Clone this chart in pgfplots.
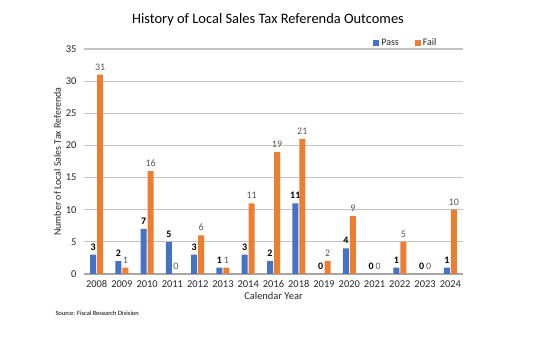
\documentclass[border=0pt]{standalone}
\usepackage{pgfplots}
\pgfplotsset{compat=1.18}
\usepackage{fontspec}
\setmainfont{Carlito}
\definecolor{passc}{HTML}{4472C4}
\definecolor{failc}{HTML}{ED7D31}
\definecolor{gridc}{HTML}{C4C4C4}
\definecolor{axc}{HTML}{A6A6A6}
\definecolor{txt}{HTML}{262626}
\definecolor{failtxt}{HTML}{595959}
\begin{document}
\begin{tikzpicture}
\path[use as bounding box] (0,0) rectangle (540bp,360bp);
\begin{axis}[
  at={(84bp,86bp)}, anchor=south west,
  scale only axis, width=379bp, height=225bp,
  ybar=1bp, bar width=6bp,
  xmin=-0.5, xmax=14.5, ymin=0, ymax=35,
  xtick={0,...,14},
  xticklabels={2008,2009,2010,2011,2012,2013,2014,2016,2018,2019,2020,2021,2022,2023,2024},
  ytick={0,5,...,35},
  ymajorgrids=true,
  major grid style={color=gridc, line width=1.1pt},
  axis x line*=bottom, axis y line*=left,
  y axis line style={draw=none},
  x axis line style={color=axc, line width=1.1pt, -},
  major tick length=0pt,
  tick label style={font=\fontsize{10.5}{12}\selectfont, text=txt},
  /pgf/number format/assume math mode=true,
  xticklabel style={yshift=-3bp},
  yticklabel style={xshift=-4bp},
  xlabel={Calendar Year}, xlabel style={font=\fontsize{10.5}{12}\selectfont, text=txt, yshift=2bp},
  ylabel={Number of Local Sales Tax Referenda}, ylabel style={font=\fontsize{10}{12}\selectfont, text=txt, yshift=-2bp},
  nodes near coords,
  every node near coord/.append style={font=\fontsize{10}{12}\selectfont, /pgf/number format/assume math mode=true, yshift=1bp},
  legend columns=2,
  legend style={draw=none, fill=none, at={(0.755,1.027)}, anchor=west, font=\fontsize{10}{12}\selectfont, text=txt,
    /tikz/every even column/.append style={column sep=14bp}},
  legend image code/.code={\fill[#1] (0bp,-3bp) rectangle (6bp,3bp);},
  enlargelimits=false, clip=false,
]
\addplot[fill=passc, draw=none, nodes near coords style={text=black, font=\fontsize{10}{12}\selectfont\bfseries}] coordinates {
(0,3) (1,2) (2,7) (3,5) (4,3) (5,1) (6,3) (7,2) (8,11) (9,0) (10,4) (11,0) (12,1) (13,0) (14,1)};
\addplot[fill=failc, draw=none, nodes near coords style={text=failtxt}] coordinates {
(0,31) (1,1) (2,16) (3,0) (4,6) (5,1) (6,11) (7,19) (8,21) (9,2) (10,9) (11,0) (12,5) (13,0) (14,10)};
\legend{Pass, Fail}
\end{axis}
\node[font=\fontsize{14.5}{16}\selectfont, text=black] at (268bp,340bp) {History of Local Sales Tax Referenda Outcomes};
\node[font=\fontsize{6.5}{8}\selectfont, text=black, anchor=west] at (52bp,47bp) {Source: Fiscal Research Division};
\end{tikzpicture}
\end{document}
